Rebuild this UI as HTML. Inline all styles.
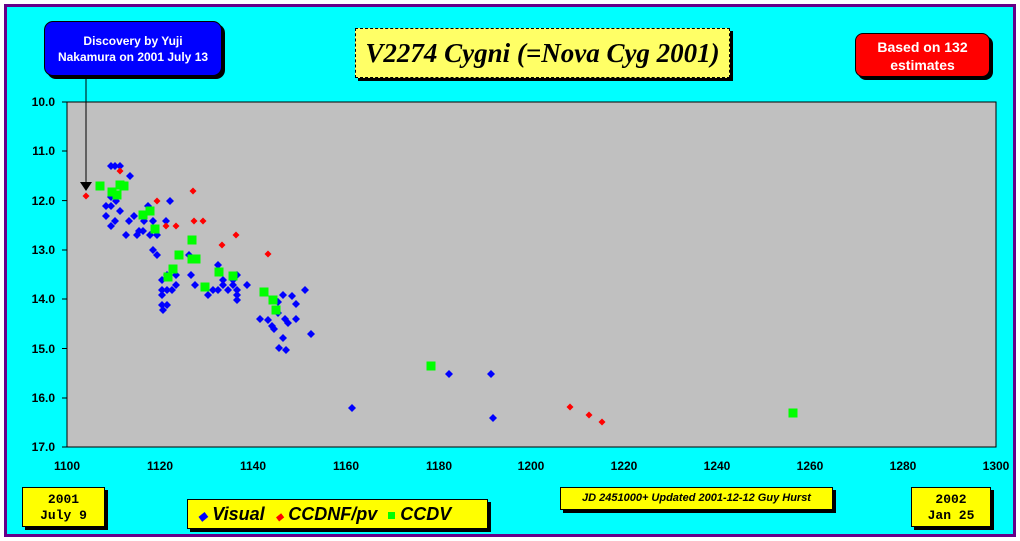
<!DOCTYPE html>
<html><head><style>
body{margin:0;width:1020px;height:541px;background:#fff;overflow:hidden;font-family:"Liberation Sans",Arial,sans-serif}
.f{position:absolute;left:4px;top:4px;width:1006px;height:527px;background:#00ffff;border:3px solid #660088}
.b{position:absolute;box-sizing:border-box;border:1px solid #000;box-shadow:3px 3px 0 #000;text-align:center;font-weight:bold}
</style></head><body>
<div class="f"></div>
<svg width="1020" height="541" style="position:absolute;left:0;top:0" font-family="Liberation Sans,Arial,sans-serif">
<rect x="67" y="102" width="929" height="345" fill="#c0c0c0" stroke="#000"/>
<g stroke="#000">
<line x1="62" y1="102" x2="67" y2="102"/><line x1="62" y1="151" x2="67" y2="151"/><line x1="62" y1="200.6" x2="67" y2="200.6"/><line x1="62" y1="250" x2="67" y2="250"/><line x1="62" y1="299" x2="67" y2="299"/><line x1="62" y1="348.5" x2="67" y2="348.5"/><line x1="62" y1="398" x2="67" y2="398"/><line x1="62" y1="447" x2="67" y2="447"/>
</g>
<g font-size="12" font-weight="bold" text-anchor="end">
<text x="55" y="106">10.0</text><text x="55" y="155">11.0</text><text x="55" y="205">12.0</text><text x="55" y="254">13.0</text><text x="55" y="303">14.0</text><text x="55" y="353">15.0</text><text x="55" y="402">16.0</text><text x="55" y="451">17.0</text>
</g>
<g font-size="12" font-weight="bold" text-anchor="middle">
<text x="67" y="470">1100</text><text x="160" y="470">1120</text><text x="253" y="470">1140</text><text x="346" y="470">1160</text><text x="439" y="470">1180</text><text x="531" y="470">1200</text><text x="624" y="470">1220</text><text x="717" y="470">1240</text><text x="810" y="470">1260</text><text x="903" y="470">1280</text><text x="996" y="470">1300</text>
</g>
<line x1="86" y1="76" x2="86" y2="183" stroke="#000"/>
<polygon points="80,182 92,182 86,191" fill="#000"/>
</svg>
<svg width="1020" height="541" style="position:absolute;left:0;top:0">
<defs><path id="d" d="M0,-4L4,0L0,4L-4,0Z" fill="#0000ff"/><path id="r" d="M0,-3.5L3.5,0L0,3.5L-3.5,0Z" fill="#ff0000"/><rect id="g" x="-4.5" y="-4.5" width="9" height="9" fill="#00ff00"/></defs>
<g>
<use href="#d" x="111" y="166"/><use href="#d" x="115" y="166"/><use href="#d" x="120" y="166"/><use href="#d" x="130" y="176"/><use href="#d" x="111" y="197"/><use href="#d" x="116" y="201"/><use href="#d" x="106" y="206"/><use href="#d" x="111" y="206"/><use href="#d" x="120" y="211"/><use href="#d" x="106" y="216"/><use href="#d" x="115" y="221"/><use href="#d" x="111" y="226"/><use href="#d" x="134" y="216"/><use href="#d" x="129" y="221"/><use href="#d" x="126" y="235"/><use href="#d" x="137" y="235"/><use href="#d" x="139" y="231"/><use href="#d" x="143" y="231"/><use href="#d" x="144" y="221"/><use href="#d" x="148" y="206"/><use href="#d" x="153" y="221"/><use href="#d" x="150" y="235"/><use href="#d" x="157" y="235"/><use href="#d" x="166" y="221"/><use href="#d" x="170" y="201"/><use href="#d" x="153" y="250"/><use href="#d" x="157" y="255"/><use href="#d" x="189" y="255"/><use href="#d" x="218" y="265"/><use href="#d" x="162" y="280"/><use href="#d" x="167" y="275"/><use href="#d" x="176" y="275"/><use href="#d" x="176" y="285"/><use href="#d" x="162" y="290"/><use href="#d" x="167" y="290"/><use href="#d" x="172" y="290"/><use href="#d" x="162" y="295"/><use href="#d" x="162" y="305"/><use href="#d" x="167" y="305"/><use href="#d" x="163" y="310"/><use href="#d" x="191" y="275"/><use href="#d" x="195" y="285"/><use href="#d" x="208" y="295"/><use href="#d" x="213" y="290"/><use href="#d" x="218" y="290"/><use href="#d" x="223" y="280"/><use href="#d" x="223" y="285"/><use href="#d" x="233" y="280"/><use href="#d" x="237" y="275"/><use href="#d" x="233" y="285"/><use href="#d" x="228" y="290"/><use href="#d" x="237" y="290"/><use href="#d" x="237" y="295"/><use href="#d" x="237" y="300"/><use href="#d" x="247" y="285"/><use href="#d" x="260" y="319"/><use href="#d" x="268" y="320"/><use href="#d" x="272" y="326"/><use href="#d" x="274" y="329"/><use href="#d" x="279" y="348"/><use href="#d" x="283" y="338"/><use href="#d" x="288" y="323"/><use href="#d" x="283" y="295"/><use href="#d" x="278" y="302"/><use href="#d" x="296" y="304"/><use href="#d" x="296" y="319"/><use href="#d" x="305" y="290"/><use href="#d" x="278" y="313"/><use href="#d" x="285" y="319"/><use href="#d" x="292" y="296"/><use href="#d" x="311" y="334"/><use href="#d" x="352" y="408"/><use href="#d" x="449" y="374"/><use href="#d" x="491" y="374"/><use href="#d" x="493" y="418"/><use href="#d" x="286" y="350"/>
<use href="#r" x="120" y="171"/><use href="#r" x="86" y="196"/><use href="#r" x="193" y="191"/><use href="#r" x="157" y="201"/><use href="#r" x="194" y="221"/><use href="#r" x="203" y="221"/><use href="#r" x="166" y="226"/><use href="#r" x="176" y="226"/><use href="#r" x="236" y="235"/><use href="#r" x="222" y="245"/><use href="#r" x="268" y="254"/><use href="#r" x="570" y="407"/><use href="#r" x="589" y="415"/><use href="#r" x="602" y="422"/>
<use href="#g" x="100" y="186"/><use href="#g" x="120" y="185"/><use href="#g" x="124" y="186"/><use href="#g" x="112" y="192"/><use href="#g" x="117" y="195"/><use href="#g" x="150" y="211"/><use href="#g" x="143" y="215"/><use href="#g" x="155" y="229"/><use href="#g" x="192" y="240"/><use href="#g" x="179" y="255"/><use href="#g" x="192" y="259"/><use href="#g" x="196" y="259"/><use href="#g" x="173" y="269"/><use href="#g" x="168" y="277"/><use href="#g" x="219" y="272"/><use href="#g" x="233" y="276"/><use href="#g" x="205" y="287"/><use href="#g" x="264" y="292"/><use href="#g" x="273" y="300"/><use href="#g" x="276" y="310"/><use href="#g" x="431" y="366"/><use href="#g" x="793" y="413"/>
</g>
</svg>
<div class="b" style="left:44px;top:21px;width:178px;height:55px;background:#0000ff;color:#fff;border-radius:9px;font-size:12px;line-height:16px;padding-top:11px">Discovery by Yuji<br>Nakamura on 2001 July 13</div>
<div class="b" style="left:355px;top:28px;width:375px;height:50px;background:#ffff66;border:1px dashed #000;font-style:italic;font-family:'Liberation Serif',serif;font-size:27px;line-height:48px;white-space:nowrap">V2274 Cygni (=Nova Cyg 2001)</div>
<div class="b" style="left:855px;top:33px;width:135px;height:44px;background:#ff0000;color:#fff;border-radius:8px;font-size:14px;line-height:18px;padding-top:4px">Based on 132<br>estimates</div>
<div class="b" style="left:22px;top:487px;width:83px;height:40px;background:#ffff00;font-family:'Liberation Mono',monospace;font-size:13px;line-height:16px;padding-top:4px">2001<br>July 9</div>
<div class="b" style="left:911px;top:487px;width:80px;height:40px;background:#ffff00;font-family:'Liberation Mono',monospace;font-size:13px;line-height:16px;padding-top:4px">2002<br>Jan 25</div>
<div class="b" style="left:560px;top:487px;width:273px;height:23px;background:#ffff00;font-style:italic;font-size:11px;line-height:21px">JD 2451000+ Updated 2001-12-12 Guy Hurst</div>
<div class="b" style="left:187px;top:499px;width:301px;height:30px;background:#ffff00;font-style:italic;font-size:18px;line-height:28px;text-align:left;padding-left:10px;white-space:nowrap"><span style="color:#00f;font-size:12px">◆</span> Visual <span style="color:#f00;font-size:10px;margin-left:6px">◆</span> CCDNF/pv <span style="display:inline-block;width:7px;height:7px;background:#0f0;margin-left:6px;vertical-align:middle"></span> CCDV</div>
</body></html>
